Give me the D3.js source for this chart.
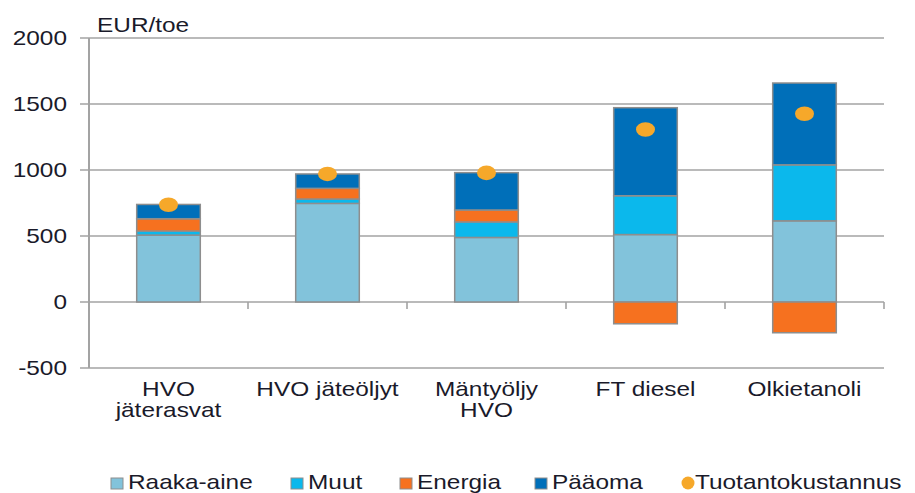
<!DOCTYPE html>
<html>
<head>
<meta charset="utf-8">
<script src="https://cdn.jsdelivr.net/npm/d3@7"></script>
<style>
  body { margin: 0; background: #fff; }
  text { font-family: "Liberation Sans", Arial, sans-serif; fill: #1a1a2a; }
</style>
</head>
<body>
<script>
const svgWidth = 915;
const svgHeight = 493;

// data
const categories = ["HVO\njäterasvat", "HVO jäteöljyt", "Mäntyöljy\nHVO", "FT diesel", "Olkietanoli"];
const raakaAine = [507, 747, 489, 511, 615];
const muut = [30, 33, 117, 294, 424];
const energia = [94, 81, 91, -165, -233];
const paaoma = [108, 109, 283, 667, 620];
const tuotantokustannus = [737, 970, 978, 1307, 1426];
const yTicks = [-500, 0, 500, 1000, 1500, 2000];

const keys = ["raaka", "muut", "energia", "paaoma"];
const names = {raaka: "Raaka-aine", muut: "Muut", energia: "Energia", paaoma: "Pääoma"};
const colors = {raaka: "#82c3db", muut: "#0bb8ec", energia: "#f6711f", paaoma: "#006fb9"};
const dotColor = "#f6a82a";

const margin = {top: 38, right: 31, bottom: 125, left: 89};
const w = svgWidth - margin.left - margin.right;
const h = svgHeight - margin.top - margin.bottom;
const sx = 1.22; // text in the picture is a bit wide

const table = categories.map((c, i) => ({
    cat: c, raaka: raakaAine[i], muut: muut[i], energia: energia[i], paaoma: paaoma[i], total: tuotantokustannus[i]
}));

const svg = d3.select("body").append("svg")
    .attr("width", svgWidth)
    .attr("height", svgHeight);

const g = svg.append("g")
    .attr("transform", `translate(${margin.left},${margin.top})`);

const x = d3.scaleBand()
    .domain(categories)
    .range([0, w])
    .paddingInner(0.6)
    .paddingOuter(0.3);

const xCat = d3.scaleBand().domain(categories).range([0, w]);

const y = d3.scaleLinear()
    .domain([-500, 2000])
    .range([h, 0]);

function wideText(sel, tx, ty, str, anchor) {
    return sel.append("text")
        .attr("transform", `translate(${tx},${ty}) scale(${sx},1)`)
        .attr("text-anchor", anchor)
        .attr("font-size", 20)
        .text(str);
}

// gridlines
g.selectAll(".grid")
    .data(yTicks)
    .enter().append("line")
    .attr("x1", -9)
    .attr("x2", w)
    .attr("y1", d => y(d))
    .attr("y2", d => y(d))
    .attr("stroke", "#a3a3a3")
    .attr("stroke-width", 1.6);

// y axis line
g.append("line")
    .attr("x1", 0).attr("x2", 0)
    .attr("y1", 0).attr("y2", h)
    .attr("stroke", "#a3a3a3")
    .attr("stroke-width", 2);

// category ticks on the zero line
g.selectAll(".xtick")
    .data(categories.slice(1).concat(["end"]))
    .enter().append("line")
    .attr("x1", (d, i) => xCat.step() * (i + 1))
    .attr("x2", (d, i) => xCat.step() * (i + 1))
    .attr("y1", y(0))
    .attr("y2", y(0) + 7)
    .attr("stroke", "#a3a3a3")
    .attr("stroke-width", 1.6);

// y tick labels
yTicks.forEach(t => {
    wideText(g, -22, y(t) + 7, t, "end");
});

wideText(g, 8, -6, "EUR/toe", "start");

// stacked bars
const series = d3.stack()
    .keys(keys)
    .offset(d3.stackOffsetDiverging)(table);

g.selectAll(".serie")
    .data(series)
    .enter().append("g")
    .attr("fill", d => colors[d.key])
    .selectAll("rect")
    .data(d => d)
    .enter().append("rect")
    .attr("x", d => x(d.data.cat))
    .attr("width", x.bandwidth())
    .attr("y", d => y(Math.max(d[0], d[1])))
    .attr("height", d => Math.abs(y(d[0]) - y(d[1])))
    .attr("stroke", "#8e8e8e")
    .attr("stroke-width", 1.5);

// production cost dots
g.selectAll(".dot")
    .data(table)
    .enter().append("ellipse")
    .attr("cx", d => x(d.cat) + x.bandwidth() / 2)
    .attr("cy", d => y(d.total))
    .attr("rx", 9.5)
    .attr("ry", 7.3)
    .attr("fill", dotColor);

// category labels
categories.forEach(c => {
    const lines = c.split("\n");
    lines.forEach((l, j) => {
        wideText(g, xCat(c) + xCat.bandwidth() / 2, 396 - margin.top + j * 21, l, "middle");
    });
});

// legend
const legendItems = [
    {key: "raaka", x: 111, tx: 128},
    {key: "muut", x: 291, tx: 308},
    {key: "energia", x: 400, tx: 417},
    {key: "paaoma", x: 535, tx: 552},
    {key: "dot", x: 688, tx: 695}
];
const legend = svg.append("g");
legendItems.forEach(it => {
    if (it.key === "dot") {
        legend.append("circle")
            .attr("cx", it.x).attr("cy", 483)
            .attr("r", 6.5)
            .attr("fill", dotColor);
        wideText(legend, it.tx, 489, "Tuotantokustannus", "start");
    } else {
        legend.append("rect")
            .attr("x", it.x).attr("y", 478)
            .attr("width", 12).attr("height", 11)
            .attr("fill", colors[it.key])
            .attr("stroke", "#8e8e8e")
            .attr("stroke-width", 1);
        wideText(legend, it.tx, 489, names[it.key], "start");
    }
});
</script>
</body>
</html>
